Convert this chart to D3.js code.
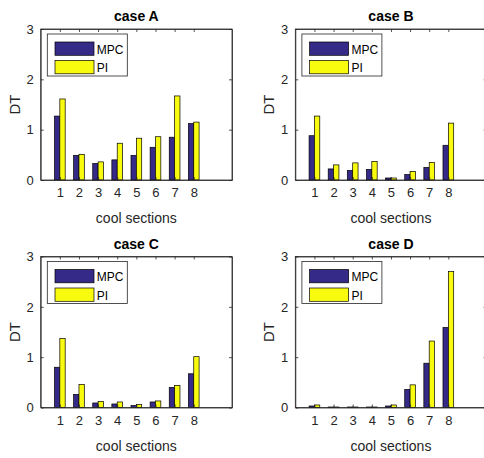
<!DOCTYPE html>
<html>
<head>
<meta charset="utf-8">
<script src="https://cdn.jsdelivr.net/npm/d3@7"></script>
<style>
  html, body { margin: 0; padding: 0; background: #fff; }
  svg { display: block; }
  text { font-family: "Liberation Sans", Arial, Helvetica, sans-serif; }
</style>
</head>
<body>
<div id="chart"></div>
<script>
// ---- data ----
const sections = [1, 2, 3, 4, 5, 6, 7, 8];
const seriesNames = ["MPC", "PI"];
const yTicks = [0, 1, 2, 3];
const xTicks = [1, 2, 3, 4, 5, 6, 7, 8];
const panelTitles = ["case A", "case B", "case C", "case D"];

const mpcA = [1.27, 0.49, 0.33, 0.40, 0.49, 0.65, 0.85, 1.12];
const piA  = [1.61, 0.51, 0.36, 0.73, 0.83, 0.86, 1.67, 1.15];
const mpcB = [0.88, 0.22, 0.19, 0.21, 0.04, 0.11, 0.25, 0.69];
const piB  = [1.27, 0.30, 0.34, 0.37, 0.04, 0.17, 0.35, 1.13];
const mpcC = [0.80, 0.26, 0.09, 0.07, 0.04, 0.11, 0.40, 0.67];
const piC  = [1.37, 0.46, 0.12, 0.11, 0.06, 0.13, 0.44, 1.01];
const mpcD = [0.03, 0.01, 0.01, 0.01, 0.03, 0.36, 0.88, 1.59];
const piD  = [0.05, 0.01, 0.01, 0.01, 0.05, 0.45, 1.32, 2.70];

const panelMPC = [mpcA, mpcB, mpcC, mpcD];
const panelPI = [piA, piB, piC, piD];

// ---- layout ----
const W = 484, H = 458;
const colors = ["#352a87", "#f9fb0e"];
const axisColor = "#262626";
const plotW = 191.3, plotH = 151;
const origins = [
  {x: 40.7, y: 29},
  {x: 295.3, y: 29},
  {x: 40.7, y: 256.5},
  {x: 295.3, y: 256.5}
];
const barW = 0.28;

const svg = d3.select("#chart").append("svg")
  .attr("width", W).attr("height", H);

panelTitles.forEach((title, p) => {
  const o = origins[p];
  const g = svg.append("g").attr("transform", `translate(${o.x},${o.y})`);
  const x = d3.scaleLinear().domain([0, 10]).range([0, plotW]);
  const y = d3.scaleLinear().domain([0, 3]).range([plotH, 0]);

  const mpc = panelMPC[p], pi = panelPI[p];
  const rows = sections.map((s, i) => ({s, vals: [mpc[i], pi[i]]}));

  // bars
  rows.forEach(r => {
    r.vals.forEach((v, k) => {
      const x0 = k === 0 ? r.s - barW : r.s;
      g.append("rect")
        .attr("x", x(x0))
        .attr("y", y(v))
        .attr("width", x(x0 + barW) - x(x0))
        .attr("height", y(0) - y(v))
        .attr("fill", colors[k])
        .attr("stroke", "#000")
        .attr("stroke-width", 0.7);
    });
  });

  // box
  g.append("rect").attr("x", 0).attr("y", 0).attr("width", plotW).attr("height", plotH)
    .attr("fill", "none").attr("stroke", axisColor).attr("stroke-width", 0.8);

  // axes (ticks inward)
  const tickLen = 3;
  const xb = d3.axisBottom(x).tickValues(xTicks).tickSize(-tickLen).tickPadding(8).tickSizeOuter(0).tickFormat(d3.format("d"));
  const xt = d3.axisTop(x).tickValues(xTicks).tickSize(-tickLen).tickFormat("").tickSizeOuter(0);
  const yl = d3.axisLeft(y).tickValues(yTicks).tickSize(-tickLen).tickPadding(7).tickSizeOuter(0).tickFormat(d3.format("d"));
  const yr = d3.axisRight(y).tickValues(yTicks).tickSize(-tickLen).tickFormat("").tickSizeOuter(0);

  const styleAxis = sel => {
    sel.select(".domain").attr("stroke", axisColor).attr("stroke-width", 0.8);
    sel.selectAll(".tick line").attr("stroke", axisColor).attr("stroke-width", 0.8);
    sel.selectAll(".tick text").attr("fill", axisColor)
      .style("font-family", '"Liberation Sans", Arial, sans-serif').style("font-size", "13px");
  };
  g.append("g").attr("transform", `translate(0,${plotH})`).call(xb).call(styleAxis);
  g.append("g").call(xt).call(styleAxis);
  g.append("g").call(yl).call(styleAxis);
  g.append("g").attr("transform", `translate(${plotW},0)`).call(yr).call(styleAxis);

  // title
  g.append("text").attr("x", plotW / 2).attr("y", -8)
    .attr("text-anchor", "middle").attr("font-size", 14).attr("font-weight", "bold")
    .attr("fill", "#000").text(title);

  // x label
  g.append("text").attr("x", plotW / 2).attr("y", plotH + 43)
    .attr("text-anchor", "middle").attr("font-size", 14).attr("fill", axisColor)
    .text("cool sections");

  // y label
  g.append("text").attr("transform", `translate(-21,${plotH / 2}) rotate(-90)`)
    .attr("text-anchor", "middle").attr("font-size", 15).attr("fill", axisColor)
    .text("DT");

  // legend
  const lg = g.append("g").attr("transform", "translate(6.6,5)");
  lg.append("rect").attr("x", 0).attr("y", 0).attr("width", 80).attr("height", 42)
    .attr("fill", "#fff").attr("stroke", axisColor).attr("stroke-width", 0.8);
  seriesNames.forEach((name, k) => {
    const yy = 8 + k * 18.5;
    lg.append("rect").attr("x", 7.7).attr("y", yy).attr("width", 39).attr("height", 13.3)
      .attr("fill", colors[k]).attr("stroke", "#000").attr("stroke-width", 0.7);
    lg.append("text").attr("x", 49.5).attr("y", yy + 11.5)
      .attr("font-size", 12).attr("fill", "#000").text(name);
  });
});
</script>
</body>
</html>
